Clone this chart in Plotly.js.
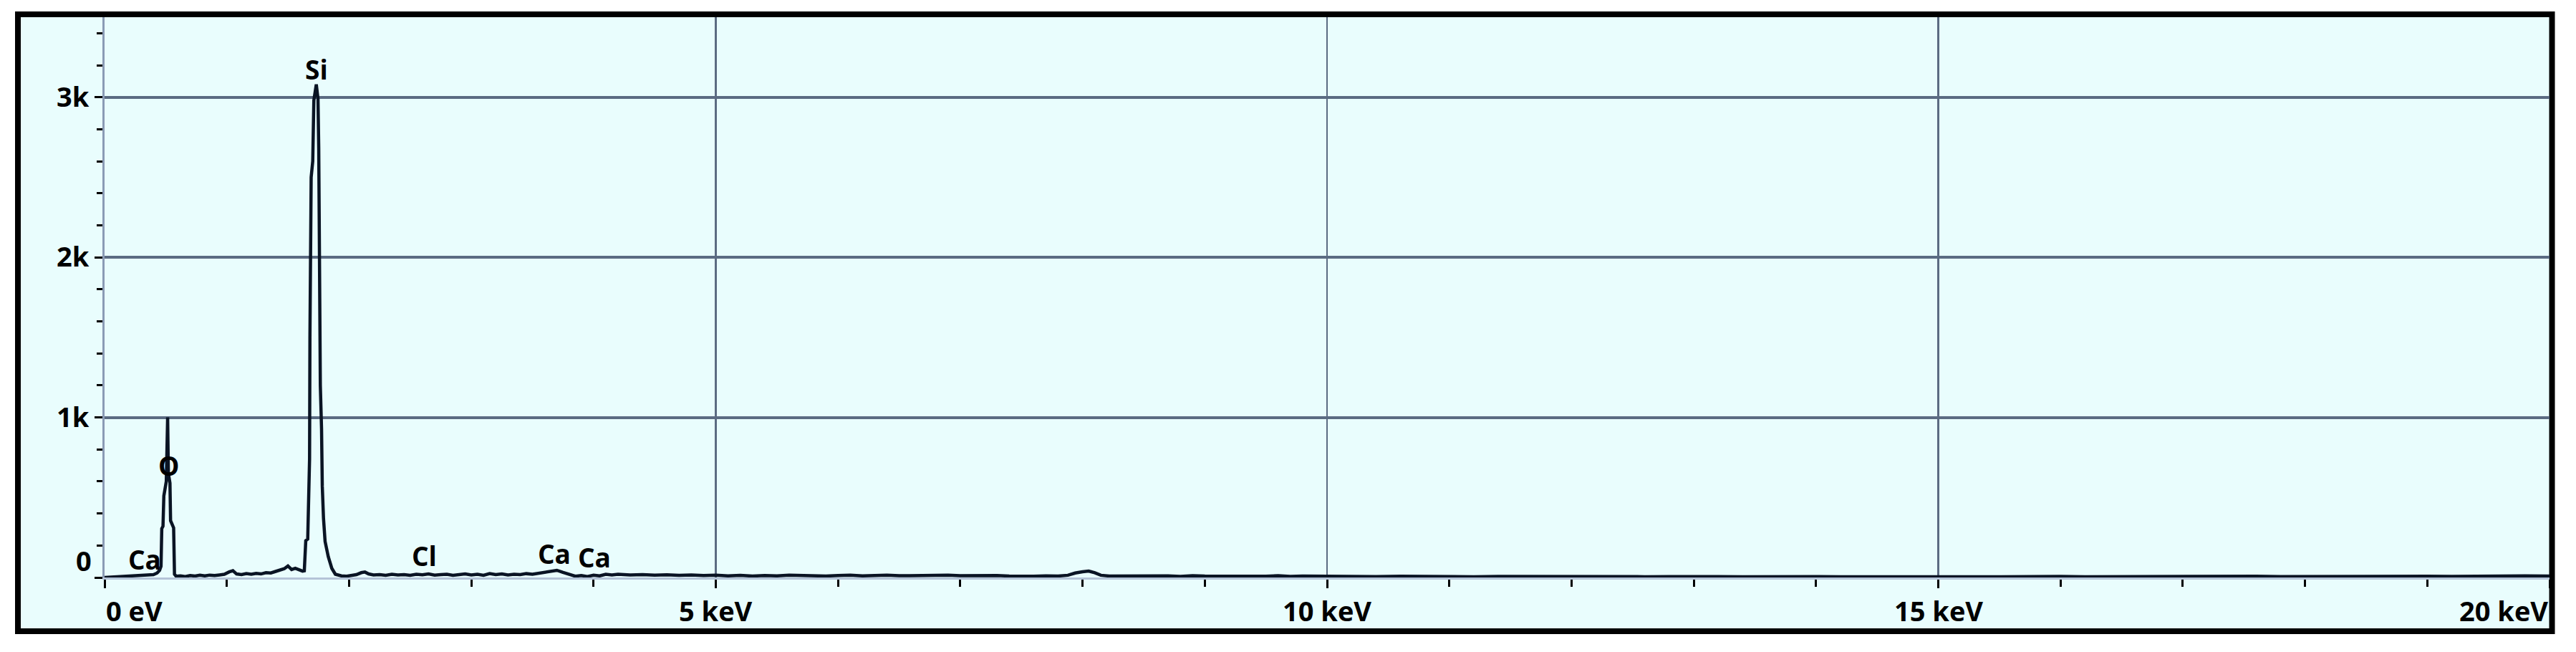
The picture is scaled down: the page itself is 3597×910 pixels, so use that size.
<!DOCTYPE html>
<html>
<head>
<meta charset="utf-8">
<script src="https://cdn.plot.ly/plotly-3.0.1.min.js"></script>
<style>
  html, body { margin: 0; padding: 0; background: #ffffff; }
  #chart { width: 3597px; height: 910px; }
</style>
</head>
<body>
<div id="chart"></div>
<script>
// Energy axis (keV) and counts
const energyKeV = [
  0.00, 0.05, 0.10, 0.15, 0.20, 0.25, 0.30, 0.35, 0.40, 0.43,
  0.45, 0.462, 0.468, 0.478, 0.485, 0.505, 0.516, 0.522, 0.535, 0.540,
  0.565, 0.572, 0.585, 0.62, 0.66, 0.70, 0.74, 0.78, 0.82, 0.86,
  0.90, 0.94, 0.98, 1.02, 1.05, 1.08, 1.12, 1.16, 1.20, 1.24,
  1.28, 1.32, 1.36, 1.40, 1.44, 1.47, 1.50, 1.53, 1.56, 1.59,
  1.62, 1.634, 1.640, 1.646, 1.662, 1.666, 1.677, 1.680, 1.690, 1.703,
  1.712, 1.732, 1.746, 1.752, 1.758, 1.765, 1.775, 1.781, 1.791, 1.804,
  1.830, 1.859, 1.888, 1.937, 1.98, 2.02, 2.06, 2.10, 2.13, 2.16,
  2.20, 2.25, 2.30, 2.35, 2.40, 2.45, 2.50, 2.55, 2.60, 2.65,
  2.70, 2.75, 2.80, 2.85, 2.90, 2.95, 3.00, 3.05, 3.10, 3.15,
  3.20, 3.25, 3.30, 3.35, 3.40, 3.45, 3.50, 3.55, 3.60, 3.65,
  3.70, 3.75, 3.80, 3.85, 3.90, 3.95, 4.00, 4.05, 4.10, 4.15,
  4.20, 4.30, 4.40, 4.50, 4.60, 4.70, 4.80, 4.90, 5.00, 5.10,
  5.20, 5.30, 5.40, 5.50, 5.60, 5.70, 5.80, 5.90, 6.00, 6.10,
  6.20, 6.30, 6.40, 6.50, 6.60, 6.70, 6.80, 6.90, 7.00, 7.10,
  7.20, 7.30, 7.40, 7.50, 7.60, 7.70, 7.80, 7.88, 7.94, 8.00,
  8.05, 8.10, 8.15, 8.22, 8.30, 8.40, 8.50, 8.60, 8.70, 8.80,
  8.90, 9.00, 9.10, 9.20, 9.30, 9.40, 9.50, 9.60, 9.70, 9.80,
  9.90, 10.0, 10.2, 10.4, 10.6, 10.8, 11.0, 11.2, 11.4, 11.6,
  11.8, 12.0, 12.2, 12.4, 12.6, 12.8, 13.0, 13.2, 13.4, 13.6,
  13.8, 14.0, 14.2, 14.4, 14.6, 14.8, 15.0, 15.2, 15.4, 15.6,
  15.8, 16.0, 16.2, 16.4, 16.6, 16.8, 17.0, 17.2, 17.4, 17.6,
  17.8, 18.0, 18.2, 18.4, 18.6, 18.8, 19.0, 19.2, 19.4, 19.6,
  19.8, 20.0
];
const counts = [
  0, 2, 3, 4, 6, 8, 9, 12, 18, 28,
  45, 70, 305, 320, 510, 600, 1000, 650, 590, 355,
  310, 20, 8, 10, 6, 12, 9, 14, 10, 15,
  12, 16, 20, 35, 42, 22, 18, 24, 20, 26,
  22, 30, 28, 38, 45, 55, 72, 50, 58, 48,
  40, 42, 120, 230, 240, 460, 740, 1500, 2500, 2600,
  2980, 3080, 2990, 2680, 2000, 1200, 930, 570, 370, 225,
  130, 57, 20, 10, 8, 12, 18, 30, 34, 22,
  16, 18, 14, 20, 16, 18, 14, 20, 17, 22,
  15, 18, 20, 14, 18, 22, 16, 20, 14, 24,
  18, 22, 16, 20, 18, 24, 20, 25, 30, 40,
  45, 32, 18, 8, 12, 6, 14, 10, 20, 16,
  20, 16, 18, 14, 17, 13, 16, 12, 14, 10,
  13, 9, 12, 10, 14, 11, 13, 9, 12, 14,
  10, 13, 15, 11, 13, 10, 12, 14, 11, 13,
  10, 12, 9, 11, 8, 10, 9, 14, 28, 36,
  40, 30, 14, 9, 10, 8, 11, 9, 10, 7,
  11, 9, 8, 12, 9, 10, 8, 11, 7, 9,
  8, 7, 8, 6, 8, 6, 7, 5, 7, 6,
  8, 5, 6, 7, 5, 6, 4, 6, 5, 7,
  5, 6, 4, 6, 5, 4, 6, 5, 4, 6,
  5, 7, 5, 6, 8, 6, 7, 9, 7, 8,
  6, 7, 9, 8, 7, 9, 8, 7, 9, 8,
  10, 9
];

// Element line labels
const peakLabels = ['Ca', 'O', 'Si', 'Cl', 'Ca', 'Ca'];
const peakLabelX = [0.33, 0.525, 1.735, 2.613, 3.68, 4.005];
const peakLabelY = [112, 700, 3175, 135, 152, 128];

// Axis ticks
const xTickVals = [0, 5, 10, 15, 20];
const xTickText = ['0 eV', '5 keV', '10 keV', '15 keV', '20 keV'];
const yTickVals = [0, 1000, 2000, 3000];
const yTickText = ['0', '1k', '2k', '3k'];

const tickFont = { family: 'Open Sans, sans-serif', size: 38, color: '#000000', weight: 700 };
const labelFont = { family: 'Open Sans, sans-serif', size: 37, color: '#000000', weight: 700 };

const trace = {
  x: energyKeV,
  y: counts,
  type: 'scatter',
  mode: 'lines',
  line: { color: '#0a1424', width: 4.5 },
  hoverinfo: 'skip',
  showlegend: false
};

const annotations = [];
for (let i = 0; i < peakLabels.length; i++) {
  annotations.push({
    x: peakLabelX[i], y: peakLabelY[i], xref: 'x', yref: 'y',
    text: peakLabels[i], showarrow: false,
    xanchor: 'center', yanchor: 'middle',
    font: labelFont
  });
}
// x tick labels: first left-aligned, last right-aligned, others centred
for (let i = 0; i < xTickVals.length; i++) {
  annotations.push({
    x: xTickVals[i], y: -0.059, xref: 'x', yref: 'paper',
    text: xTickText[i], showarrow: false,
    xanchor: i === 0 ? 'left' : (i === xTickVals.length - 1 ? 'right' : 'center'),
    yanchor: 'middle',
    font: tickFont
  });
}
// y "0" label sits above its tick
annotations.push({
  x: -0.0048, y: 0.031, xref: 'paper', yref: 'paper',
  text: yTickText[0], showarrow: false,
  xanchor: 'right', yanchor: 'middle', font: tickFont
});

const layout = {
  width: 3597, height: 910,
  margin: { l: 146, r: 37, t: 24, b: 104, pad: 0 },
  paper_bgcolor: '#ffffff',
  plot_bgcolor: 'rgba(0,0,0,0)',
  xaxis: {
    range: [0, 20],
    tickvals: xTickVals,
    showticklabels: false,
    ticks: 'outside', ticklen: 12, tickwidth: 3, tickcolor: '#000000',
    minor: { dtick: 1, ticks: 'outside', ticklen: 10, tickwidth: 3, tickcolor: '#000000', showgrid: false },
    showgrid: true, gridcolor: '#5b6b82', gridwidth: 2.5,
    showline: true, linecolor: '#b4c4d8', linewidth: 3,
    zeroline: false, fixedrange: true
  },
  yaxis: {
    range: [0, 3500],
    tickvals: yTickVals,
    ticktext: ['', yTickText[1], yTickText[2], yTickText[3]],
    tickfont: tickFont,
    ticks: 'outside', ticklen: 11, tickwidth: 3, tickcolor: '#000000',
    minor: { dtick: 200, ticks: 'outside', ticklen: 8, tickwidth: 3, tickcolor: '#000000', showgrid: false },
    showgrid: true, gridcolor: '#5b6b82', gridwidth: 4,
    showline: true, linecolor: '#8a9bb5', linewidth: 3,
    zeroline: false, fixedrange: true
  },
  shapes: [{
    type: 'rect', xref: 'paper', yref: 'paper', layer: 'below',
    x0: -0.03544, x1: 1.00103, y0: -0.0959, y1: 1.0051,
    fillcolor: '#e9fdfd',
    line: { color: '#000000', width: 8 }
  }],
  annotations: annotations
};

Plotly.newPlot('chart', [trace], layout, { staticPlot: true, displayModeBar: false });
</script>
</body>
</html>
